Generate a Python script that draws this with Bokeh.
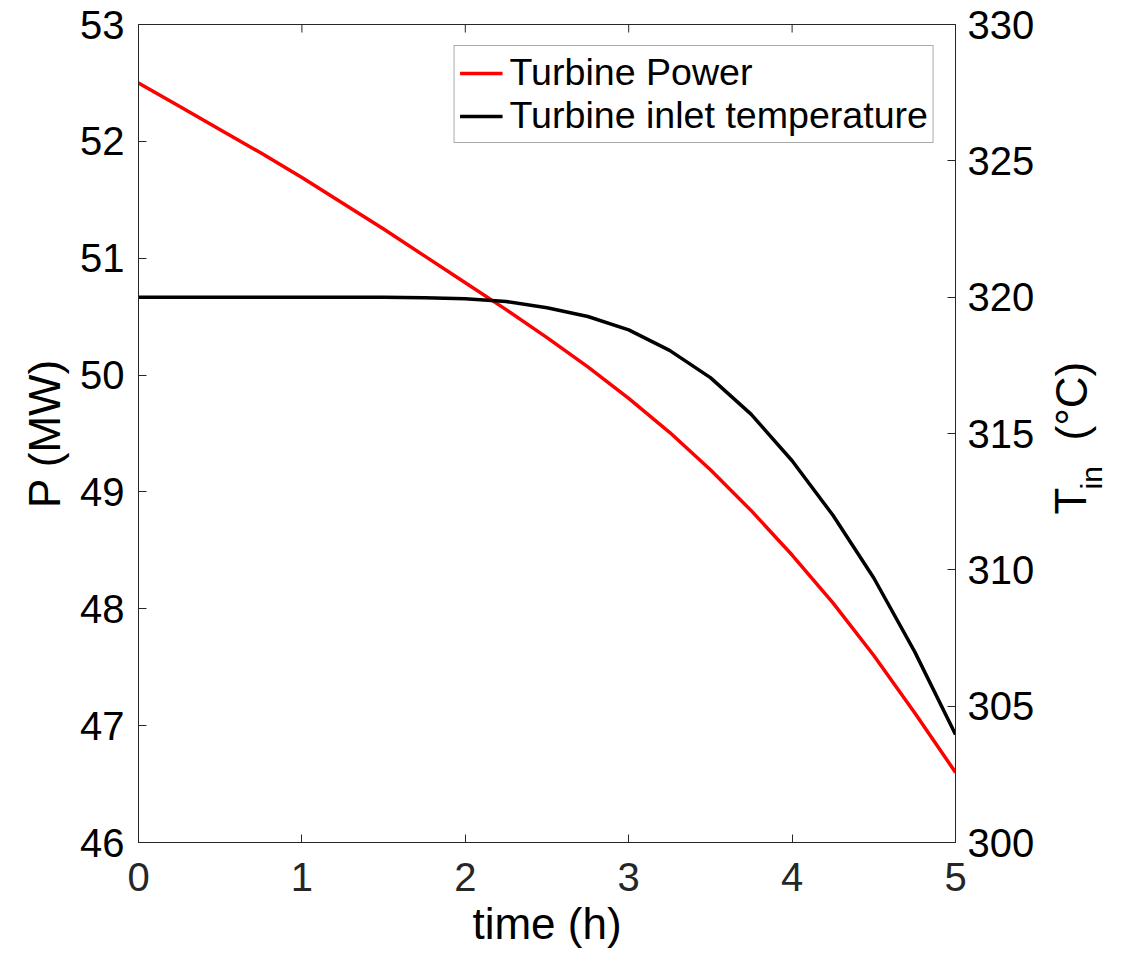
import math
from bokeh.plotting import figure
from bokeh.layouts import row
from bokeh.models import Range1d, LinearAxis, FixedTicker, Label
from bokeh.embed import file_html
from bokeh.resources import INLINE

# ---- data ----
time_h = [0.0, 0.25, 0.5, 0.75, 1.0, 1.25, 1.5, 1.75, 2.0, 2.25, 2.5,
          2.75, 3.0, 3.25, 3.5, 3.75, 4.0, 4.25, 4.5, 4.75, 5.0]
power_mw = [52.50, 52.30, 52.10, 51.90, 51.69, 51.47, 51.25, 51.02, 50.79, 50.56, 50.32,
            50.07, 49.80, 49.51, 49.19, 48.84, 48.46, 48.05, 47.60, 47.11, 46.60]
t_inlet_c = [320.00, 320.00, 320.00, 320.00, 320.00, 320.00, 320.00, 319.98, 319.94, 319.84, 319.61,
             319.29, 318.80, 318.05, 317.05, 315.70, 314.00, 312.00, 309.70, 307.00, 303.96]

x_ticks = [0, 1, 2, 3, 4, 5]
p_ticks = [46, 47, 48, 49, 50, 51, 52, 53]
t_ticks = [300, 305, 310, 315, 320, 325, 330]

right_title = ["T", "in", "(°C)"]

FONT = "Liberation Sans"
AX = "#262626"
FW, FH = 817, 818
BL, BR, BT, BB = 138, 90, 24, 132
MAIN_W = BL + FW + BR
MAIN_H = BT + FH + BB
SIDE_W = 84

p = figure(frame_width=FW, frame_height=FH, output_backend="svg", toolbar_location=None,
           x_range=Range1d(0, 5), y_range=Range1d(46, 53),
           min_border_left=BL, min_border_right=BR, min_border_top=BT, min_border_bottom=BB,
           background_fill_color="white", border_fill_color="white")
p.outline_line_color = AX
p.outline_line_width = 1
p.xgrid.visible = False
p.ygrid.visible = False
p.extra_y_ranges = {"T": Range1d(300, 330)}

def style(ax, ticks, size="40px"):
    ax.ticker = FixedTicker(ticks=ticks)
    ax.axis_line_color = AX
    ax.axis_line_width = 1
    ax.major_tick_line_color = AX
    ax.major_tick_in = 8
    ax.major_tick_out = 0
    ax.minor_tick_line_color = None
    ax.major_label_text_font = FONT
    ax.major_label_text_font_size = size
    ax.major_label_text_color = "black"
    ax.axis_label_text_font = FONT
    ax.axis_label_text_font_size = "44px"
    ax.axis_label_text_font_style = "normal"
    ax.axis_label_text_color = "black"

xa = p.xaxis[0]
style(xa, x_ticks)
xa.major_label_text_color = AX
xa.axis_label = "time (h)"
xa.major_label_standoff = 20
xa.axis_label_standoff = 5

ya = p.yaxis[0]
style(ya, p_ticks)
ya.axis_label = "P (MW)"
ya.major_label_standoff = 14
ya.axis_label_standoff = 8

right = LinearAxis(y_range_name="T")
style(right, t_ticks)
right.major_label_standoff = 12
p.add_layout(right, "right")

# short inward tick marks along the top edge of the box (same x ticks)
tick_len = 8 * (53 - 46) / FH
p.segment(x0=x_ticks, y0=[53] * len(x_ticks), x1=x_ticks, y1=[53 - tick_len] * len(x_ticks),
          line_color=AX, line_width=1)

p.line(time_h, power_mw, line_color="#ff0000", line_width=3.5, legend_label="Turbine Power")
p.line(time_h, t_inlet_c, line_color="black", line_width=3.5, y_range_name="T",
       legend_label="Turbine inlet temperature")

lg = p.legend[0]
lg.location = "top_right"
lg.margin = 21
lg.padding = 5
lg.spacing = 0
lg.glyph_width = 43
lg.glyph_height = 42
lg.label_height = 42
lg.label_standoff = 7
lg.label_text_font = FONT
lg.label_text_font_size = "37.6px"
lg.label_text_color = "black"
lg.border_line_color = "#555555"
lg.border_line_width = 1
lg.background_fill_color = "white"
lg.background_fill_alpha = 1

# ---- narrow strip to the right holding the right-axis title (T with subscript "in", °C) ----
side = figure(frame_width=SIDE_W, frame_height=MAIN_H, output_backend="svg", toolbar_location=None,
              title=None, x_range=Range1d(0, SIDE_W), y_range=Range1d(0, MAIN_H),
              x_axis_type=None, y_axis_type=None,
              min_border=0, min_border_left=0, min_border_right=0,
              min_border_top=0, min_border_bottom=0,
              background_fill_color="white", border_fill_color="white")
side.outline_line_color = None
side.grid.visible = False

rot = math.pi / 2
common = dict(angle=rot, text_align="left", text_baseline="alphabetic",
              text_font=FONT, text_color="black")
DX = -16  # rendering offset corrections for rotated text
side.add_layout(Label(x=1086 - MAIN_W + DX, y=MAIN_H - 512 + 22, text=right_title[0],
                      text_font_size="44px", **common))
side.add_layout(Label(x=1107 - MAIN_W + DX, y=MAIN_H - 480 + 15, text=right_title[1],
                      text_font_size="30px", **common))
side.add_layout(Label(x=1087 - MAIN_W + DX, y=MAIN_H - 438 + 22, text=right_title[2],
                      text_font_size="44px", **common))

layout = row(p, side, spacing=0)
open("out.html", "w").write(file_html(layout, INLINE))
